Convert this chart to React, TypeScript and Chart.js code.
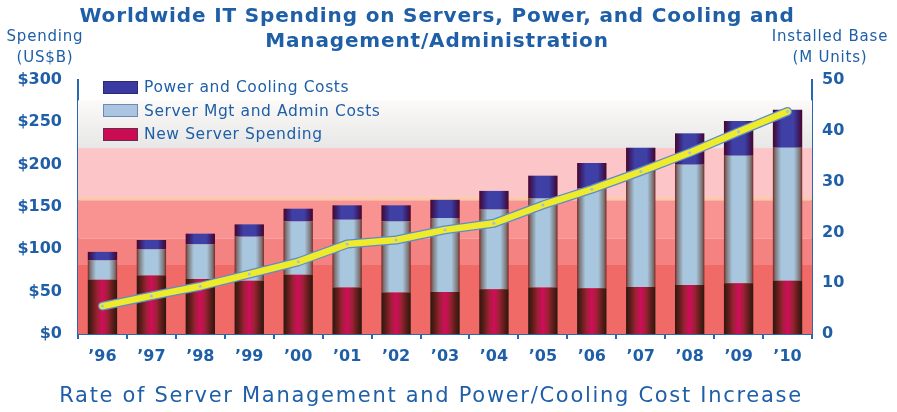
import React, { useEffect, useRef } from "react";
import { Chart, registerables } from "chart.js";

Chart.register(...registerables);

// ---- data ----
const years = ["’96", "’97", "’98", "’99", "’00", "’01", "’02", "’03", "’04", "’05", "’06", "’07", "’08", "’09", "’10"];
const newServerSpending = [64, 69, 65, 63, 70, 55, 49, 49.5, 53, 55, 54, 55.5, 58, 60, 63];
const serverMgtAdmin = [23, 31, 41, 52, 63, 80, 84, 87.5, 94, 105, 118, 136, 142, 150.5, 157];
const powerCooling = [10, 11, 12.5, 14.5, 15, 17, 19, 21.5, 22, 27, 30, 28.5, 37, 41, 45];
const installedBase = [5.5, 7.5, 9.4, 11.8, 14.2, 17.7, 18.5, 20.5, 21.8, 25.4, 28.5, 32, 35.7, 39.8, 43.8];
const spendingMax = 300;
const spendingStep = 50;
const unitsMax = 50;
const unitsStep = 10;

const BLUE = "#1f5fa8";
const AXIS = "#2a66b2";
const FONT = "'DejaVu Sans', Verdana, sans-serif";
const BAR_PCT = 0.6;

type Stop = [number, string];
const redStops: Stop[] = [[0, "#2a1810"], [0.14, "#5a1c18"], [0.32, "#9a2234"], [0.5, "#d20c5c"], [0.68, "#9a2234"], [0.86, "#5a1c18"], [1, "#2a1810"]];
const mgtStops: Stop[] = [[0, "#7a2626"], [0.08, "#7c7474"], [0.28, "#a8c6de"], [0.72, "#a8c6de"], [0.92, "#7c7474"], [1, "#7a2626"]];
const powerStops: Stop[] = [[0, "#4a0428"], [0.12, "#3c1c64"], [0.3, "#3e40a6"], [0.7, "#3e40a6"], [0.88, "#3c1c64"], [1, "#4a0428"]];

const bands: { from: number; to: number; color: string }[] = [
  { from: 0, to: 81.5, color: "#f06b67" },
  { from: 81.5, to: 113, color: "#f48280" },
  { from: 113, to: 158, color: "#f89392" },
  { from: 158, to: 161.7, color: "#fbc9a6" },
  { from: 161.7, to: 219.6, color: "#fcc6c9" },
];

function barGradient(stops: Stop[]) {
  return (c: any) => {
    const chart = c.chart;
    const xs = chart.scales && chart.scales.x;
    if (!chart.chartArea || !xs || c.type !== "data") return stops[Math.floor(stops.length / 2)][1];
    const cx = xs.getPixelForValue(c.dataIndex);
    const w = (xs.getPixelForValue(1) - xs.getPixelForValue(0)) * BAR_PCT;
    const g = chart.ctx.createLinearGradient(cx - w / 2, 0, cx + w / 2, 0);
    stops.forEach(([o, col]) => g.addColorStop(o, col));
    return g;
  };
}

const bandPlugin = {
  id: "bands",
  beforeDatasetsDraw(chart: any) {
    const { ctx, chartArea: a, scales } = chart;
    const y = scales.y;
    ctx.save();
    const gTop = y.getPixelForValue(276);
    const gBot = y.getPixelForValue(219.6);
    const gg = ctx.createLinearGradient(0, gTop, 0, gBot);
    gg.addColorStop(0, "#fbfaf8");
    gg.addColorStop(1, "#e7e7e7");
    ctx.fillStyle = gg;
    ctx.fillRect(a.left, gTop, a.right - a.left, gBot - gTop);
    bands.forEach((b) => {
      const t = y.getPixelForValue(b.to);
      const bt = y.getPixelForValue(b.from);
      ctx.fillStyle = b.color;
      ctx.fillRect(a.left, t, a.right - a.left, bt - t);
    });
    ctx.restore();
  },
};

const legendItems = [
  { label: "Power and Cooling Costs", fill: "#3a3aa2", border: "#2a2a70" },
  { label: "Server Mgt and Admin Costs", fill: "#a9c5e2", border: "#7088b0" },
  { label: "New Server Spending", fill: "#cc0c52", border: "#6a2a52" },
];

export default function App() {
  const ref = useRef<HTMLCanvasElement | null>(null);

  useEffect(() => {
    document.body.style.margin = "0";
    const canvas = ref.current;
    if (!canvas) return;
    const chart = new Chart(canvas, {
      type: "bar",
      data: {
        labels: years,
        datasets: [
          {
            type: "line",
            label: "Installed Base",
            data: installedBase,
            yAxisID: "y1",
            borderColor: "#eeea2c",
            borderWidth: 6.5,
            pointRadius: 1.5,
            pointBackgroundColor: "#9cc0e4",
            pointBorderWidth: 0,
            borderCapStyle: "round",
            borderJoinStyle: "round",
            tension: 0,
            order: 0,
          } as any,
          {
            type: "line",
            label: "Installed Base outline",
            data: installedBase,
            yAxisID: "y1",
            borderColor: "#5d8ccc",
            borderWidth: 9,
            pointRadius: 0,
            borderCapStyle: "round",
            borderJoinStyle: "round",
            tension: 0,
            order: 1,
          } as any,
          {
            label: "New Server Spending",
            data: newServerSpending,
            backgroundColor: barGradient(redStops),
            order: 2,
            barPercentage: BAR_PCT,
            categoryPercentage: 1,
          },
          {
            label: "Server Mgt and Admin Costs",
            data: serverMgtAdmin,
            backgroundColor: barGradient(mgtStops),
            order: 2,
            barPercentage: BAR_PCT,
            categoryPercentage: 1,
          },
          {
            label: "Power and Cooling Costs",
            data: powerCooling,
            backgroundColor: barGradient(powerStops),
            order: 2,
            barPercentage: BAR_PCT,
            categoryPercentage: 1,
          },
        ],
      },
      options: {
        animation: false,
        responsive: true,
        maintainAspectRatio: false,
        layout: { padding: { top: 80, left: 0, right: 0, bottom: 0 } },
        plugins: { legend: { display: false }, tooltip: { enabled: false } },
        scales: {
          x: {
            stacked: true,
            border: { display: true, color: AXIS, width: 2 },
            grid: { display: true, offset: true, drawOnChartArea: false, drawTicks: true, tickLength: 5, color: AXIS, lineWidth: 2 },
            ticks: { color: BLUE, font: { family: FONT, size: 16, weight: "bold" }, padding: 8, maxRotation: 0 },
            afterFit: (s: any) => { s.height = 78; },
          },
          y: {
            stacked: true,
            min: 0,
            max: spendingMax,
            border: { display: true, color: AXIS, width: 2 },
            grid: { display: false, drawTicks: false },
            ticks: {
              stepSize: spendingStep,
              color: BLUE,
              padding: 16,
              font: { family: FONT, size: 16, weight: "bold" },
              callback: (v: any) => "$" + v,
            },
            afterFit: (s: any) => { s.width = 78; },
          },
          y1: {
            position: "right",
            min: 0,
            max: unitsMax,
            border: { display: true, color: AXIS, width: 2 },
            grid: { display: false, drawTicks: false },
            ticks: { stepSize: unitsStep, color: BLUE, padding: 10, font: { family: FONT, size: 16, weight: "bold" } },
            afterFit: (s: any) => { s.width = 85; },
          },
        },
      },
      plugins: [bandPlugin],
    });
    return () => chart.destroy();
  }, []);

  const txt: React.CSSProperties = { position: "absolute", fontFamily: FONT, color: BLUE, whiteSpace: "nowrap", margin: 0 };

  return (
    <div style={{ position: "relative", width: 897, height: 412, background: "#ffffff", overflow: "hidden" }}>
      <canvas ref={ref} style={{ position: "absolute", left: 0, top: 0 }} />
      <div style={{ ...txt, left: 0, top: 3, width: 874, textAlign: "center", fontSize: 20, fontWeight: "bold", lineHeight: "25px", letterSpacing: "0.85px" }}>
        Worldwide IT Spending on Servers, Power, and Cooling and
        <br />
        Management/Administration
      </div>
      <div style={{ ...txt, left: 0, top: 26, width: 90, textAlign: "center", fontSize: 15, lineHeight: "21px", letterSpacing: "0.8px" }}>
        Spending
        <br />
        (US$B)
      </div>
      <div style={{ ...txt, left: 770, top: 26, width: 120, textAlign: "center", fontSize: 15, lineHeight: "21px", letterSpacing: "0.8px" }}>
        Installed Base
        <br />
        (M Units)
      </div>
      {legendItems.map((it, i) => (
        <div key={it.label} style={{ position: "absolute", left: 103, top: 79 + i * 23.5, height: 16, display: "flex", alignItems: "center" }}>
          <div style={{ width: 33, height: 11, background: it.fill, border: `1px solid ${it.border}` }} />
          <span style={{ fontFamily: FONT, color: BLUE, fontSize: 15.5, marginLeft: 6, whiteSpace: "nowrap", letterSpacing: "0.6px" }}>{it.label}</span>
        </div>
      ))}
      <div style={{ ...txt, left: 0, top: 383, width: 862, textAlign: "center", fontSize: 21, lineHeight: "24px", letterSpacing: "1.7px" }}>
        Rate of Server Management and Power/Cooling Cost Increase
      </div>
    </div>
  );
}
